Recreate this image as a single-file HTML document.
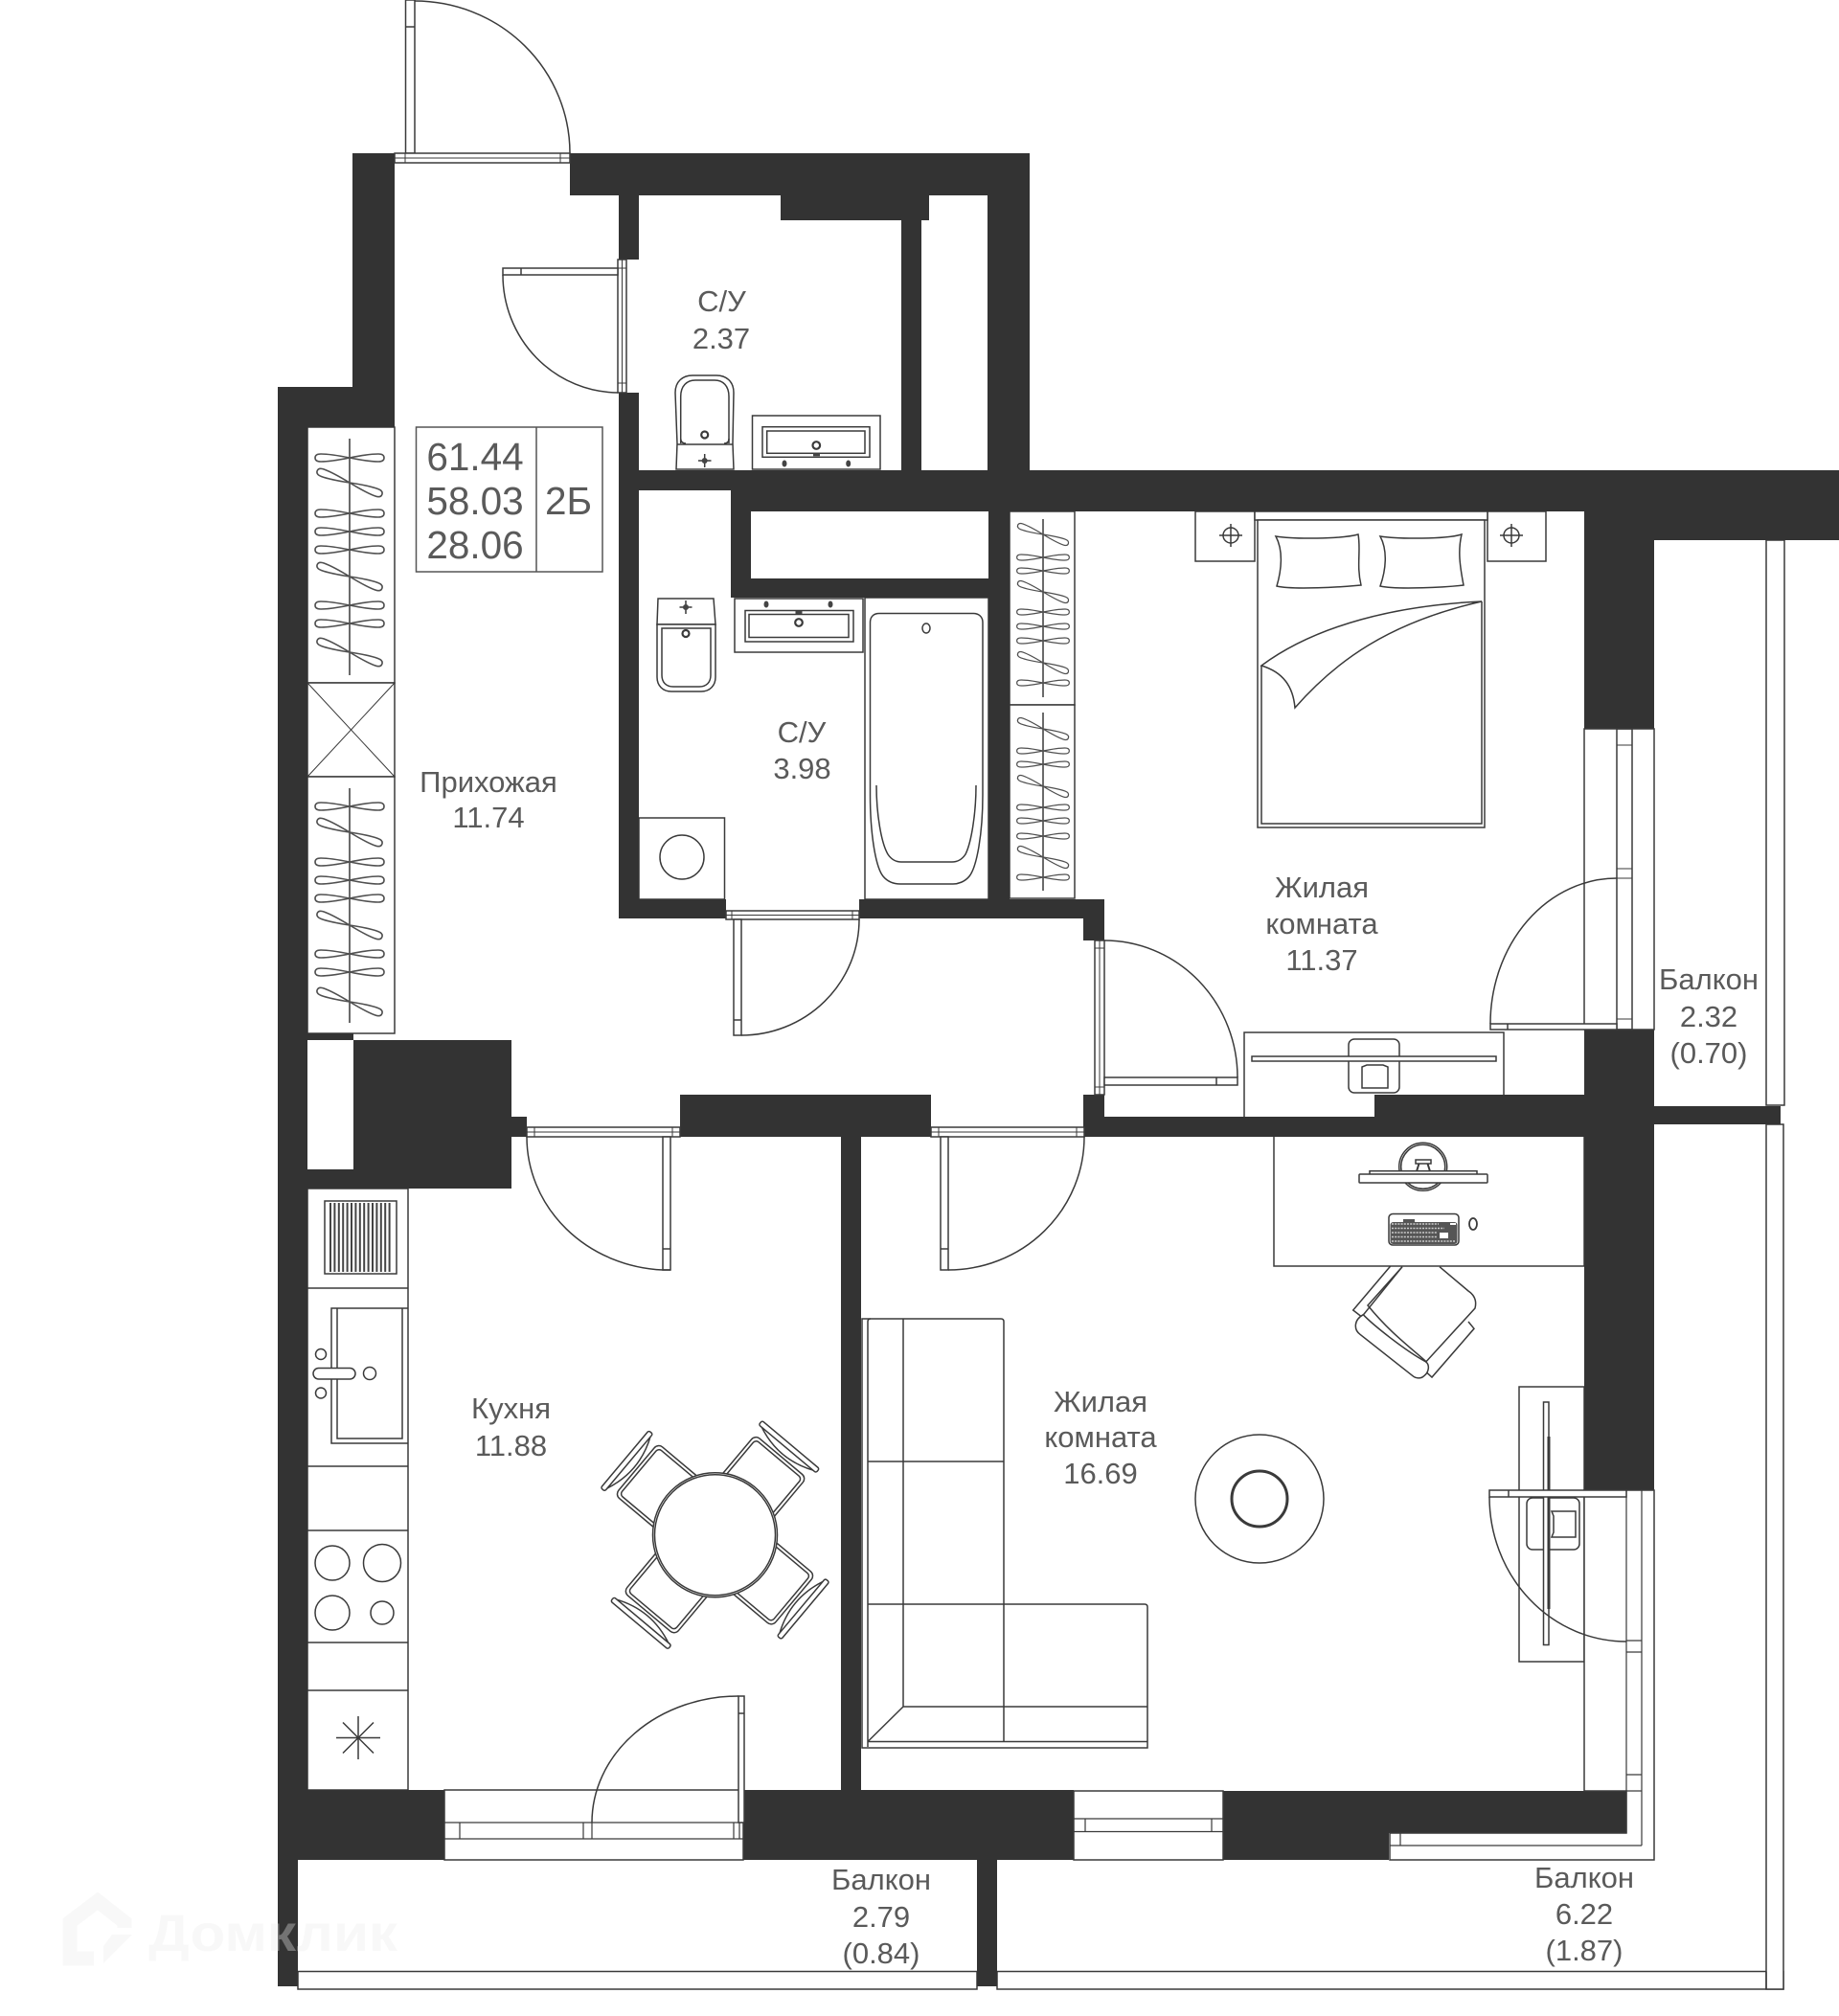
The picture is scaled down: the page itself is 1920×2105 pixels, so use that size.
<!DOCTYPE html>
<html lang="ru">
<head>
<meta charset="utf-8">
<title>План квартиры</title>
<style>
html,body{margin:0;padding:0;background:#fff;}
svg{display:block;}
text{font-family:"Liberation Sans","DejaVu Sans",sans-serif;fill:#5a5a5a;text-anchor:middle;font-size:31px;}
.n{font-size:40.5px;}
.l{fill:none;stroke:#3a3a3a;stroke-width:1.5;}
.w{fill:#fff;stroke:#3a3a3a;stroke-width:1.5;}
.t{fill:none;stroke:#555;stroke-width:1;}
</style>
</head>
<body>
<svg width="1920" height="2105" viewBox="0 0 1920 2105" xmlns="http://www.w3.org/2000/svg">
<defs>
<g id="h"><path d="M0 0C10-2 20-4 30-4C35-4 36-2 36 0C36 2 35 4 30 4C20 4 10 2 0 0C-10-2-20-4-30-4C-35-4-36-2-36 0C-36 2-35 4-30 4C-20 4-10 2 0 0Z" fill="none" stroke="#505050" stroke-width="1.6"/></g>
<g id="c">
<path d="M-36-118Q0-102 36-118" class="w"/>
<rect x="-35" y="-107" width="70" height="70" rx="6" class="w"/>
<rect x="-31.5" y="-103.5" width="63" height="70" rx="4" class="l"/>
<rect x="-39" y="-123" width="78" height="5.5" rx="2" class="w"/>
</g>
</defs>

<!-- balconies -->
<rect x="311" y="2058.5" width="709" height="18.5" class="w"/>
<rect x="1041" y="2058.5" width="821" height="18.5" class="w"/>
<rect x="1844" y="564" width="19" height="590" class="w"/>
<rect x="1844" y="1174" width="18" height="903" class="w"/>
<path d="M1844 2058.5V2077" class="l"/>

<!-- hall wardrobes -->
<rect x="321" y="446" width="91" height="267" class="w"/>
<rect x="321" y="713" width="91" height="98" class="w"/>
<path d="M321 713L412 811M412 713L321 811" class="l" style="stroke-width:1"/>
<rect x="321" y="811" width="91" height="268" class="w"/>
<path d="M365 458V705M365 823V1068" class="l"/>
<use href="#h" x="365" y="478"/><use href="#h" transform="translate(365 504) rotate(20)"/>
<use href="#h" x="365" y="536"/><use href="#h" x="365" y="555"/><use href="#h" x="365" y="574"/>
<use href="#h" transform="translate(365 602) rotate(20)"/><use href="#h" x="365" y="632"/><use href="#h" x="365" y="651"/>
<use href="#h" transform="translate(365 681) rotate(20)"/>
<use href="#h" x="365" y="842"/><use href="#h" transform="translate(365 869) rotate(20)"/>
<use href="#h" x="365" y="900"/><use href="#h" x="365" y="919"/><use href="#h" x="365" y="938"/>
<use href="#h" transform="translate(365 966) rotate(20)"/><use href="#h" x="365" y="996"/><use href="#h" x="365" y="1015"/>
<use href="#h" transform="translate(365 1046) rotate(20)"/>

<!-- bedroom wardrobes -->
<rect x="1054" y="534" width="68" height="202" class="w"/>
<rect x="1054" y="736" width="68" height="202" class="w"/>
<path d="M1089 542V728M1089 744V930" class="l"/>
<g>
<use href="#h" transform="translate(1089 558) rotate(20) scale(.78)"/><use href="#h" transform="translate(1089 582) scale(.76)"/>
<use href="#h" transform="translate(1089 596) scale(.76)"/><use href="#h" transform="translate(1089 618) rotate(20) scale(.78)"/>
<use href="#h" transform="translate(1089 639) scale(.76)"/><use href="#h" transform="translate(1089 654) scale(.76)"/>
<use href="#h" transform="translate(1089 669) scale(.76)"/><use href="#h" transform="translate(1089 692) rotate(20) scale(.78)"/>
<use href="#h" transform="translate(1089 713) scale(.76)"/>
<use href="#h" transform="translate(1089 761) rotate(20) scale(.78)"/><use href="#h" transform="translate(1089 784) scale(.76)"/>
<use href="#h" transform="translate(1089 798) scale(.76)"/><use href="#h" transform="translate(1089 821) rotate(20) scale(.78)"/>
<use href="#h" transform="translate(1089 843) scale(.76)"/><use href="#h" transform="translate(1089 857) scale(.76)"/>
<use href="#h" transform="translate(1089 873) scale(.76)"/><use href="#h" transform="translate(1089 895) rotate(20) scale(.78)"/>
<use href="#h" transform="translate(1089 916) scale(.76)"/>
</g>

<!-- upper WC -->
<path d="M707 463L705 410C705 398 713 392 723 392H748C758 392 766 398 766 410L765 463L766 490H706Z" class="w"/>
<path d="M710.7 463V414C710.7 403 717 397 726 397H746C755 397 761 403 761 414V463" class="l"/>
<path d="M707 464H765" class="l"/>
<path d="M710.7 458Q711 463 716 463M761 458Q761 463 756 463" class="l"/>
<circle cx="735.7" cy="454" r="3.5" class="l" style="stroke-width:2.2"/>
<path d="M735.7 474V488M729 481H742.5" class="l"/><circle cx="735.7" cy="481" r="3" fill="#444"/>
<rect x="785.5" y="434" width="133.5" height="56" class="w"/>
<rect x="796" y="445.7" width="112" height="31.6" class="l"/>
<rect x="800.7" y="450" width="102.3" height="23.3" class="l"/>
<circle cx="852.3" cy="465" r="3.8" class="l" style="stroke-width:2.2"/>
<rect x="849" y="473.3" width="7" height="3" fill="#444"/>
<ellipse cx="819" cy="484" rx="2.5" ry="3.5" fill="#444"/><ellipse cx="885.7" cy="484" rx="2.5" ry="3.5" fill="#444"/>

<!-- bathroom -->
<path d="M687 625H745L747 652H686Z" class="w"/>
<path d="M686 652H747V707C747 716 741 722 732 722H701C692 722 686 716 686 707Z" class="w"/>
<path d="M691 656H742V705C742 712 738 717 730 717H703C695 717 691 712 691 705Z" class="l"/>
<circle cx="716" cy="661.5" r="3.5" class="l" style="stroke-width:2.2"/>
<path d="M716 627V641M709.5 634H722.5" class="l"/><circle cx="716" cy="634" r="3" fill="#444"/>
<rect x="767" y="625" width="134" height="56" class="w"/>
<rect x="778" y="637.5" width="113" height="32.5" class="l"/>
<rect x="782" y="641.5" width="104" height="24" class="l"/>
<circle cx="834" cy="650" r="3.8" class="l" style="stroke-width:2.2"/>
<rect x="830.5" y="638" width="7" height="3" fill="#444"/>
<ellipse cx="800" cy="631" rx="2.5" ry="3.5" fill="#444"/><ellipse cx="867" cy="631" rx="2.5" ry="3.5" fill="#444"/>
<rect x="903" y="624" width="129" height="315" class="w"/>
<path d="M908.5 650C908.5 644 912 640.5 918 640.5H1016C1022 640.5 1026 644 1026 650V830C1026 870 1020 905 1012 915C1007 921 1000 923 995 923H940C934 923 927 921 922 915C914 905 908.5 870 908.5 830Z" class="l"/>
<path d="M915 820C915 850 920 880 927 892C931 898 936 900 941 900H994C999 900 1004 898 1008 892C1014 880 1019 850 1019 820" class="l"/>
<ellipse cx="967" cy="656" rx="4" ry="5" class="l"/>
<rect x="667" y="854" width="89.5" height="85" class="w"/>
<circle cx="712" cy="895" r="23" class="l"/>

<!-- bed -->
<rect x="1248" y="534" width="62" height="52" class="w"/>
<rect x="1553" y="534" width="61" height="52" class="w"/>
<rect x="1310" y="534" width="243" height="9" class="w"/>
<g class="l">
<circle cx="1285" cy="559" r="8"/><path d="M1285 547V571M1273 559H1297"/>
<circle cx="1578" cy="559" r="8"/><path d="M1578 547V571M1566 559H1590"/>
</g>
<rect x="1313" y="543" width="237" height="321" class="w"/>
<path d="M1317 695V860H1547V628" class="l"/>
<path d="M1332 560C1350 563 1400 563 1418 558C1421 575 1416 590 1421 611C1400 613 1350 616 1333 612C1338 595 1340 575 1332 560Z" class="l"/>
<path d="M1441 560C1460 563 1510 563 1526 558C1522 575 1524 590 1528 611C1510 613 1460 616 1441 612C1447 595 1449 575 1441 560Z" class="l"/>
<path d="M1547 628C1460 632 1375 652 1317 695C1340 702 1350 717 1352 739C1395 690 1450 650 1547 628Z" class="w"/>

<!-- bedroom TV -->
<rect x="1299" y="1078" width="271" height="90" class="w"/>
<rect x="1408" y="1085" width="53" height="56" rx="6" class="l"/>
<path d="M1422 1136V1114L1427 1112H1444L1449 1114V1136Z" class="l"/>
<rect x="1307" y="1103" width="255" height="5" class="w"/>

<!-- kitchen counter -->
<rect x="321" y="1241" width="105" height="628" class="w"/>
<path d="M321 1345H426M321 1531H426M321 1598H426M321 1715H426M321 1765H426" class="l"/>
<rect x="339" y="1254" width="75" height="76" class="l"/>
<line x1="344" y1="1292" x2="408" y2="1292" stroke="#444" stroke-width="72" stroke-dasharray="2 2.4"/>
<path d="M426 1366H346V1507H426M352 1366V1502H420V1366" class="l"/>
<rect x="327" y="1428.5" width="44" height="11.5" rx="5.7" class="w"/>
<circle cx="335" cy="1414" r="5.5" class="l"/><circle cx="335" cy="1454.5" r="5.5" class="l"/><circle cx="386" cy="1434" r="6.5" class="l"/>
<circle cx="347" cy="1632" r="18" class="l"/><circle cx="399" cy="1632" r="19.5" class="l"/><circle cx="347" cy="1684" r="18" class="l"/><circle cx="399" cy="1684" r="12" class="l"/>
<path d="M374 1792V1837M351 1814.5H397M358 1798.5L390 1830.5M390 1798.5L358 1830.5" class="l"/>

<!-- dining -->
<use href="#c" transform="translate(746.5 1602.7) rotate(-50)"/>
<use href="#c" transform="translate(746.5 1602.7) rotate(40)"/>
<use href="#c" transform="translate(746.5 1602.7) rotate(130)"/>
<use href="#c" transform="translate(746.5 1602.7) rotate(220)"/>
<circle cx="746.5" cy="1602.7" r="65" class="w"/><circle cx="746.5" cy="1602.7" r="63" class="l"/>

<!-- sofa -->
<path d="M900 1377H1045Q1048 1377 1048 1380V1675H1195Q1198 1675 1198 1678V1825H900Z" class="w"/>
<path d="M906 1824V1380Q906 1377 909 1377M943 1377V1782M906 1526H1048M906 1675H1048M943 1782H1198M1048 1675V1819M906 1818.5H1198M943 1782L906 1818.5" class="l"/>

<!-- rug -->
<circle cx="1315" cy="1565" r="67" class="l"/>
<circle cx="1315" cy="1565" r="29" fill="none" stroke="#3a3a3a" stroke-width="3"/>

<!-- desk -->
<rect x="1330" y="1186" width="324" height="136" class="w"/>
<circle cx="1485.7" cy="1218.3" r="25" class="l"/><circle cx="1485.7" cy="1218.3" r="23" class="l"/>
<rect x="1478" y="1211" width="16" height="4" class="l"/>
<path d="M1481.5 1215L1479 1223M1490.5 1215L1493 1223" class="l" style="stroke-width:2"/>
<rect x="1430" y="1222.7" width="112" height="3.5" class="w"/>
<rect x="1419" y="1226" width="134" height="9" rx="1" class="w"/>
<rect x="1450" y="1267.5" width="73" height="32.5" rx="4" class="w"/>
<rect x="1451.5" y="1276" width="70" height="23" rx="3" fill="#555"/>
<g stroke="#ccc" stroke-width="1.6" stroke-dasharray="2 1.2">
<line x1="1453" y1="1278" x2="1502" y2="1278"/>
<line x1="1453" y1="1282.5" x2="1508" y2="1282.5"/>
<line x1="1453" y1="1287" x2="1500" y2="1287"/>
<line x1="1453" y1="1291.5" x2="1500" y2="1291.5"/>
<line x1="1453" y1="1296" x2="1520" y2="1296"/>
</g>
<rect x="1503" y="1287" width="9" height="6" fill="#fff"/>
<rect x="1514" y="1277" width="6" height="2" fill="#fff"/>
<rect x="1465" y="1273" width="12" height="3" fill="#555"/>
<ellipse cx="1538" cy="1278" rx="4" ry="6" class="l" style="stroke-width:1.8"/>
<!-- office chair -->
<path d="M1451.7 1322L1412.7 1368L1421.7 1375L1464 1322.7" class="l"/>
<path d="M1533 1380L1539 1387.3L1495 1438L1488 1431.7" class="l"/>
<path d="M1464 1322.7L1428 1363C1450 1390 1470 1405 1489 1421.7L1540 1366C1542 1358 1539 1352 1533 1348L1503 1322.7" class="l"/>
<path d="M1423.3 1372.7C1433.3 1383.3 1466.7 1410 1488.3 1421.7C1493.3 1425 1491.7 1433.3 1486.7 1436.7C1483.3 1440 1478.3 1439.3 1475 1436.7L1420 1393.3C1413.3 1388.3 1413.3 1378.3 1423.3 1372.7Z" class="w"/>

<!-- living TV -->
<rect x="1586" y="1448" width="68" height="287" class="w"/>
<rect x="1594" y="1564" width="55" height="54" rx="6" class="l"/>
<path d="M1620 1578H1645V1605H1620L1622 1600V1583Z" class="l"/>
<rect x="1611.5" y="1464" width="5.5" height="253.5" class="w"/>
<path d="M1617 1500V1680" class="l" style="stroke-width:3"/>

<!-- walls -->
<g fill="#333">
<rect x="368" y="160" width="44" height="244"/>
<rect x="290" y="404" width="122" height="42"/>
<rect x="290" y="446" width="31" height="1496"/>
<rect x="290" y="1942" width="21" height="132"/>
<rect x="595" y="160" width="480" height="44"/>
<rect x="646" y="204" width="21" height="67"/>
<rect x="646" y="410" width="21" height="549"/>
<rect x="815" y="204" width="155" height="26"/>
<rect x="941" y="230" width="21" height="261"/>
<rect x="1031" y="204" width="44" height="287"/>
<rect x="646" y="491" width="1274" height="21"/>
<rect x="763" y="491" width="1157" height="43"/>
<rect x="1654" y="491" width="266" height="73"/>
<rect x="763" y="512" width="21" height="112"/>
<rect x="763" y="604" width="290" height="20"/>
<rect x="1032" y="533" width="22" height="406"/>
<rect x="646" y="939" width="112" height="20"/>
<rect x="897" y="939" width="256" height="20"/>
<rect x="1131" y="959" width="22" height="23"/>
<rect x="1131" y="1143" width="22" height="23"/>
<rect x="1131" y="1166" width="596" height="21"/>
<rect x="1435" y="1143" width="292" height="23"/>
<rect x="1654" y="534" width="73" height="227"/>
<rect x="1654" y="1075" width="73" height="68"/>
<rect x="1727" y="1155" width="132" height="19"/>
<rect x="1654" y="1187" width="73" height="369"/>
<rect x="290" y="1079" width="79" height="7"/>
<rect x="369" y="1086" width="165" height="155"/>
<rect x="290" y="1221" width="244" height="20"/>
<rect x="534" y="1166" width="16" height="21"/>
<rect x="710" y="1143" width="262" height="44"/>
<rect x="878" y="1187" width="21" height="682"/>
<rect x="290" y="1869" width="174" height="73"/>
<rect x="776" y="1869" width="345" height="73"/>
<rect x="1277" y="1870" width="173" height="72"/>
<rect x="1450" y="1870" width="248" height="44"/>
<rect x="1020" y="1942" width="21" height="132"/>
</g>

<!-- watermark -->
<g>
<path d="M98 2045H73V2007L102 1985L130 2007V2013" fill="none" stroke="#ebebeb" stroke-opacity=".35" stroke-width="15"/>
<path d="M108 2050V2032L117 2020H138Z" fill="#ebebeb" fill-opacity=".35"/>
<text x="155" y="2037" textLength="260" lengthAdjust="spacingAndGlyphs" style="font-size:54px;font-weight:bold;text-anchor:start;fill:#ebebeb;fill-opacity:.35">Домклик</text>
</g>

<!-- entry door -->
<rect x="423.5" y="0" width="9.5" height="160" class="w"/>
<path d="M423.5 28H433" class="l"/>
<path d="M433 1A162 159 0 0 1 595 160" class="l"/>
<rect x="412" y="160" width="183" height="10" class="w"/>
<path d="M412 165H595M423 160V170M585 160V170" class="l" style="stroke-width:1"/>

<!-- WC door -->
<rect x="645" y="271" width="9" height="139" class="w"/>
<path d="M649.5 271V410M645 280H654M645 400H654" class="l" style="stroke-width:1"/>
<rect x="525" y="280" width="120" height="7" class="w"/>
<path d="M544 280V287" class="l"/>
<path d="M525 287A121 123 0 0 0 645 410" class="l"/>

<!-- bath door -->
<rect x="758" y="951" width="139" height="9" class="w"/>
<path d="M758 955.5H897M764 951V960M890 951V960" class="l" style="stroke-width:1"/>
<rect x="766" y="960" width="8" height="121" class="w"/>
<path d="M766 1065H774" class="l"/>
<path d="M897 960A123 121 0 0 1 774 1081" class="l"/>

<!-- bedroom door -->
<rect x="1143" y="982" width="10" height="161" class="w"/>
<path d="M1148 982V1143M1143 990H1153M1143 1135H1153" class="l" style="stroke-width:1"/>
<rect x="1153" y="1125" width="139" height="8" class="w"/>
<path d="M1270 1125V1133" class="l"/>
<path d="M1153 982A139 143 0 0 1 1292 1125" class="l"/>

<!-- kitchen door -->
<rect x="550" y="1177" width="160" height="10" class="w"/>
<path d="M550 1182H710M558 1177V1187M702 1177V1187" class="l" style="stroke-width:1"/>
<rect x="692" y="1187" width="8" height="139" class="w"/>
<path d="M692 1304H700" class="l"/>
<path d="M550 1187A149 139 0 0 0 692 1326H700" class="l"/>

<!-- living door -->
<rect x="972" y="1177" width="160" height="10" class="w"/>
<path d="M972 1182H1132M980 1177V1187M1124 1177V1187" class="l" style="stroke-width:1"/>
<rect x="982" y="1187" width="8" height="139" class="w"/>
<path d="M982 1304H990" class="l"/>
<path d="M1132 1187A142 139 0 0 1 990 1326" class="l"/>

<!-- bedroom balcony door/window -->
<rect x="1654" y="761" width="73" height="314" class="w"/>
<rect x="1688" y="761" width="16" height="314" class="l"/>
<path d="M1688 778H1704M1688 907H1704M1688 917H1704M1688 1064H1704" class="l" style="stroke-width:1"/>
<rect x="1556" y="1069" width="132" height="6" class="w"/>
<path d="M1574 1069V1075" class="l"/>
<path d="M1688 917A132 152 0 0 0 1556 1069" class="l"/>

<!-- kitchen balcony door/window -->
<rect x="464" y="1869" width="312" height="73" class="w"/>
<path d="M464 1903H776M464 1920H776M480 1903V1920M609 1903V1920M618 1903V1920M766 1903V1920M772 1903V1920" class="l" style="stroke-width:1.2"/>
<rect x="771" y="1771" width="6" height="132" class="w"/>
<path d="M771 1789H777" class="l"/>
<path d="M771 1771A153 132 0 0 0 618 1903" class="l"/>

<!-- living south window -->
<rect x="1121" y="1870" width="156" height="72" class="w"/>
<path d="M1121 1899H1277M1121 1912.5H1277M1133 1899V1912.5M1265 1899V1912.5" class="l" style="stroke-width:1.2"/>

<!-- corner window -->
<path d="M1654 1556H1727V1942H1451V1914H1698V1870H1654Z" class="w"/>
<path d="M1698 1556V1914M1714 1556V1927M1451 1927H1714M1462 1914V1927M1698 1713H1714M1698 1725H1714M1698 1853H1714M1698 1870H1714" class="l" style="stroke-width:1.2"/>
<rect x="1555" y="1556" width="143" height="7" class="w"/>
<path d="M1575 1556V1563" class="l"/>
<path d="M1555 1563A143 151 0 0 0 1698 1714" class="l"/>

<!-- info table -->
<rect x="434.5" y="446" width="194.5" height="151" fill="#fff" stroke="#555" stroke-width="1.5"/>
<path d="M560 446V597" stroke="#555" stroke-width="1.5"/>
<text class="n" x="496" y="491">61.44</text>
<text class="n" x="496" y="537">58.03</text>
<text class="n" x="496" y="583">28.06</text>
<text class="n" x="593.5" y="537">2Б</text>

<!-- labels -->
<text x="753.5" y="325">С/У</text><text x="753" y="364">2.37</text>
<text x="837" y="775">С/У</text><text x="837.5" y="813">3.98</text>
<text x="510" y="827">Прихожая</text><text x="510" y="864">11.74</text>
<text x="1380" y="937">Жилая</text><text x="1380" y="975">комната</text><text x="1380" y="1013">11.37</text>
<text x="1784" y="1033">Балкон</text><text x="1784" y="1072">2.32</text><text x="1784" y="1110">(0.70)</text>
<text x="533.5" y="1481">Кухня</text><text x="533.5" y="1520">11.88</text>
<text x="920" y="1973">Балкон</text><text x="920" y="2012">2.79</text><text x="920" y="2050">(0.84)</text>
<text x="1149" y="1474">Жилая</text><text x="1149" y="1511">комната</text><text x="1149" y="1549">16.69</text>
<text x="1654" y="1971">Балкон</text><text x="1654" y="2009">6.22</text><text x="1654" y="2047">(1.87)</text>
</svg>
</body>
</html>
